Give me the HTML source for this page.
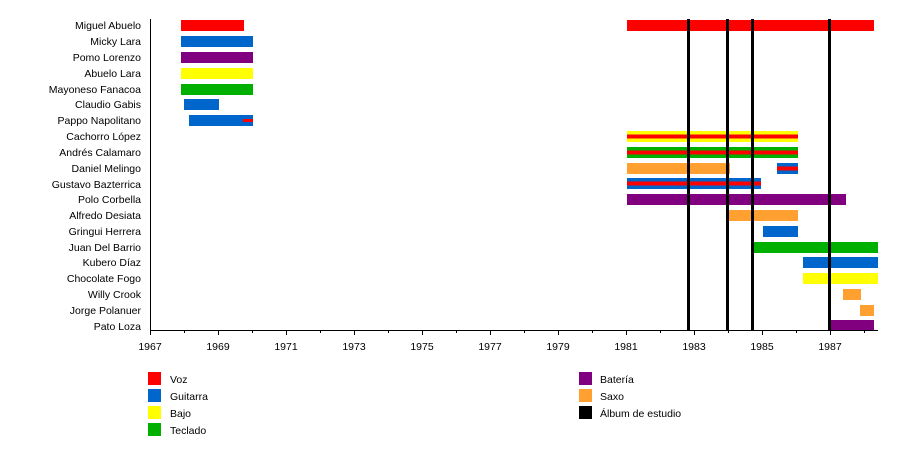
<!DOCTYPE html>
<html><head><meta charset="utf-8"><style>
html,body{margin:0;padding:0;background:#fff;}
svg{display:block;font-family:"Liberation Sans",sans-serif;font-size:10.5px;}
</style></head><body>
<svg width="900" height="450" viewBox="0 0 900 450">
<g text-anchor="end" fill="#000">
<text x="141" y="29">Miguel Abuelo</text>
<text x="141" y="45">Micky Lara</text>
<text x="141" y="61">Pomo Lorenzo</text>
<text x="141" y="77">Abuelo Lara</text>
<text x="141" y="93">Mayoneso Fanacoa</text>
<text x="141" y="108">Claudio Gabis</text>
<text x="141" y="124">Pappo Napolitano</text>
<text x="141" y="140">Cachorro López</text>
<text x="141" y="156">Andrés Calamaro</text>
<text x="141" y="172">Daniel Melingo</text>
<text x="141" y="188">Gustavo Bazterrica</text>
<text x="141" y="203">Polo Corbella</text>
<text x="141" y="219">Alfredo Desiata</text>
<text x="141" y="235">Gringui Herrera</text>
<text x="141" y="251">Juan Del Barrio</text>
<text x="141" y="266">Kubero Díaz</text>
<text x="141" y="282">Chocolate Fogo</text>
<text x="141" y="298">Willy Crook</text>
<text x="141" y="314">Jorge Polanuer</text>
<text x="141" y="330">Pato Loza</text>
</g>
<!-- bars -->
<g>
<rect x="181" y="20" width="63" height="11" fill="#f00"/>
<rect x="627" y="20" width="247" height="11" fill="#f00"/>
<rect x="181" y="36" width="72" height="11" fill="#0066cc"/>
<rect x="181" y="52" width="72" height="11" fill="#800080"/>
<rect x="181" y="68" width="72" height="11" fill="#ffff00"/>
<rect x="181" y="84" width="72" height="11" fill="#00b000"/>
<rect x="184" y="99" width="35" height="11" fill="#0066cc"/>
<rect x="189" y="115" width="64" height="11" fill="#0066cc"/>
<rect x="243" y="119" width="10" height="3" fill="#f00"/>
<rect x="627" y="131" width="171" height="11" fill="#ffff00"/>
<rect x="627" y="134.5" width="171" height="4" fill="#f00"/>
<rect x="627" y="147" width="171" height="11" fill="#00b000"/>
<rect x="627" y="150.5" width="171" height="4" fill="#f00"/>
<rect x="627" y="163" width="103" height="11" fill="#ffa030"/>
<rect x="777" y="163" width="21" height="11" fill="#0066cc"/>
<rect x="777" y="166.5" width="21" height="4" fill="#f00"/>
<rect x="627" y="178" width="134" height="11" fill="#0066cc"/>
<rect x="627" y="181.5" width="134" height="4" fill="#f00"/>
<rect x="627" y="194" width="219" height="11" fill="#800080"/>
<rect x="729" y="210" width="69" height="11" fill="#ffa030"/>
<rect x="763" y="226" width="35" height="11" fill="#0066cc"/>
<rect x="752" y="242" width="126" height="11" fill="#00b000"/>
<rect x="803" y="257" width="75" height="11" fill="#0066cc"/>
<rect x="803" y="273" width="75" height="11" fill="#ffff00"/>
<rect x="843" y="289" width="18" height="11" fill="#ffa030"/>
<rect x="860" y="305" width="14" height="11" fill="#ffa030"/>
<rect x="831" y="320" width="43" height="11" fill="#800080"/>
</g>
<!-- album lines -->
<g fill="#000">
<rect x="687" y="19" width="3" height="312"/>
<rect x="726" y="19" width="3" height="312"/>
<rect x="751" y="19" width="3" height="312"/>
<rect x="828" y="19" width="3" height="312"/>
</g>
<!-- axes -->
<line x1="150.5" y1="19" x2="150.5" y2="331" stroke="#000" stroke-width="1"/>
<line x1="150" y1="330.5" x2="878" y2="330.5" stroke="#000" stroke-width="1"/>
<g stroke="#000" stroke-width="1">
<path d="M150.5 330v5M184.5 330v3M218.5 330v5M252.5 330v3M286.5 330v5M320.5 330v3M354.5 330v5M388.5 330v3M422.5 330v5M456.5 330v3M490.5 330v5M524.5 330v3M558.5 330v5M592.5 330v3M626.5 330v5M660.5 330v3M694.5 330v5M728.5 330v3M762.5 330v5M796.5 330v3M830.5 330v5M864.5 330v3"/>
</g>
<g text-anchor="middle">
<text x="150" y="350">1967</text>
<text x="218" y="350">1969</text>
<text x="286" y="350">1971</text>
<text x="354" y="350">1973</text>
<text x="422" y="350">1975</text>
<text x="490" y="350">1977</text>
<text x="558" y="350">1979</text>
<text x="626" y="350">1981</text>
<text x="694" y="350">1983</text>
<text x="762" y="350">1985</text>
<text x="830" y="350">1987</text>
</g>
<!-- legend -->
<rect x="148" y="372" width="13" height="13" fill="#f00"/><text x="170" y="383">Voz</text>
<rect x="148" y="389" width="13" height="13" fill="#0066cc"/><text x="170" y="400">Guitarra</text>
<rect x="148" y="406" width="13" height="13" fill="#ffff00"/><text x="170" y="417">Bajo</text>
<rect x="148" y="423" width="13" height="13" fill="#00b000"/><text x="170" y="434">Teclado</text>
<rect x="579" y="372" width="13" height="13" fill="#800080"/><text x="600" y="383">Batería</text>
<rect x="579" y="389" width="13" height="13" fill="#ffa030"/><text x="600" y="400">Saxo</text>
<rect x="579" y="406" width="13" height="13" fill="#000"/><text x="600" y="417">Álbum de estudio</text>
</svg>
</body></html>
